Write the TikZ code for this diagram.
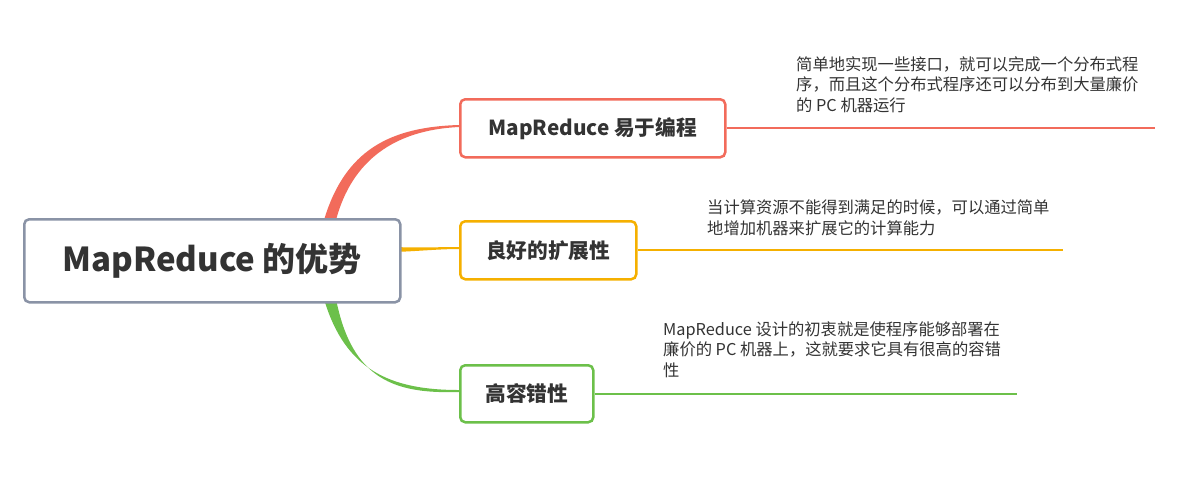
\documentclass[tikz,border=0pt]{standalone}
\usepackage{fontspec}
\setmainfont{Noto Sans CJK SC}
\definecolor{cr}{HTML}{F26B5B}
\definecolor{co}{HTML}{F5B000}
\definecolor{cg}{HTML}{6CC04A}
\definecolor{cgr}{HTML}{8A93A6}
\definecolor{tx}{HTML}{333333}
\begin{document}
\begin{tikzpicture}[x=1pt,y=-1pt,
  box/.style={draw,rounded corners=5pt,line width=2.5pt,fill=white,text=tx,font=\bfseries\fontsize{20.7}{24}\selectfont,inner sep=0pt,anchor=north west},
  note/.style={anchor=north west,text=tx,font=\fontsize{16.3}{20.5}\selectfont,align=left,inner sep=0pt}]
\useasboundingbox (0,0) rectangle (1182,499);
% branch curves (tapered)
\fill[cr] (324,220) .. controls (345,150) and (390,127) .. (459,125) -- (459,127) .. controls (395,130) and (352,160) .. (336,220) -- cycle;
\fill[co] (395,247) .. controls (420,248) and (440,247) .. (459,247) -- (459,249) .. controls (440,249) and (420,251) .. (395,252) -- cycle;
\fill[cg] (324,299) .. controls (345,370) and (390,390) .. (459,390) -- (459,392) .. controls (395,394) and (352,380) .. (336,299) -- cycle;
\node[box,draw=cgr,minimum width=376pt,minimum height=83pt,font=\bfseries\fontsize{33}{38}\selectfont] (root) at (23,218) {MapReduce 的优势};
\node[box,draw=cr,minimum width=265pt,minimum height=58pt] (b1) at (459,98) {MapReduce 易于编程};
\node[box,draw=co,minimum width=176pt,minimum height=58pt] (b2) at (459,220) {良好的扩展性};
\node[box,draw=cg,minimum width=133pt,minimum height=57pt] (b3) at (459,364) {高容错性};
\coordinate (e1) at (1155,126);
\coordinate (e2) at (1063,248);
\coordinate (e3) at (1017,391);
\draw[cr,line width=2pt] (b1.east) -- (b1.east -| e1);
\draw[co,line width=2pt] (b2.east) -- (b2.east -| e2);
\draw[cg,line width=2pt] (b3.east) -- (b3.east -| e3);
\node[note] (n1) at (796,56) {简单地实现一些接口，就可以完成一个分布式程\\序，而且这个分布式程序还可以分布到大量廉价\\的 PC 机器运行};
\node[note] (n2) at (707,200) {当计算资源不能得到满足的时候，可以通过简单\\地增加机器来扩展它的计算能力};
\node[note] (n3) at (663,321) {MapReduce 设计的初衷就是使程序能够部署在\\廉价的 PC 机器上，这就要求它具有很高的容错\\性};
\end{tikzpicture}
\end{document}
